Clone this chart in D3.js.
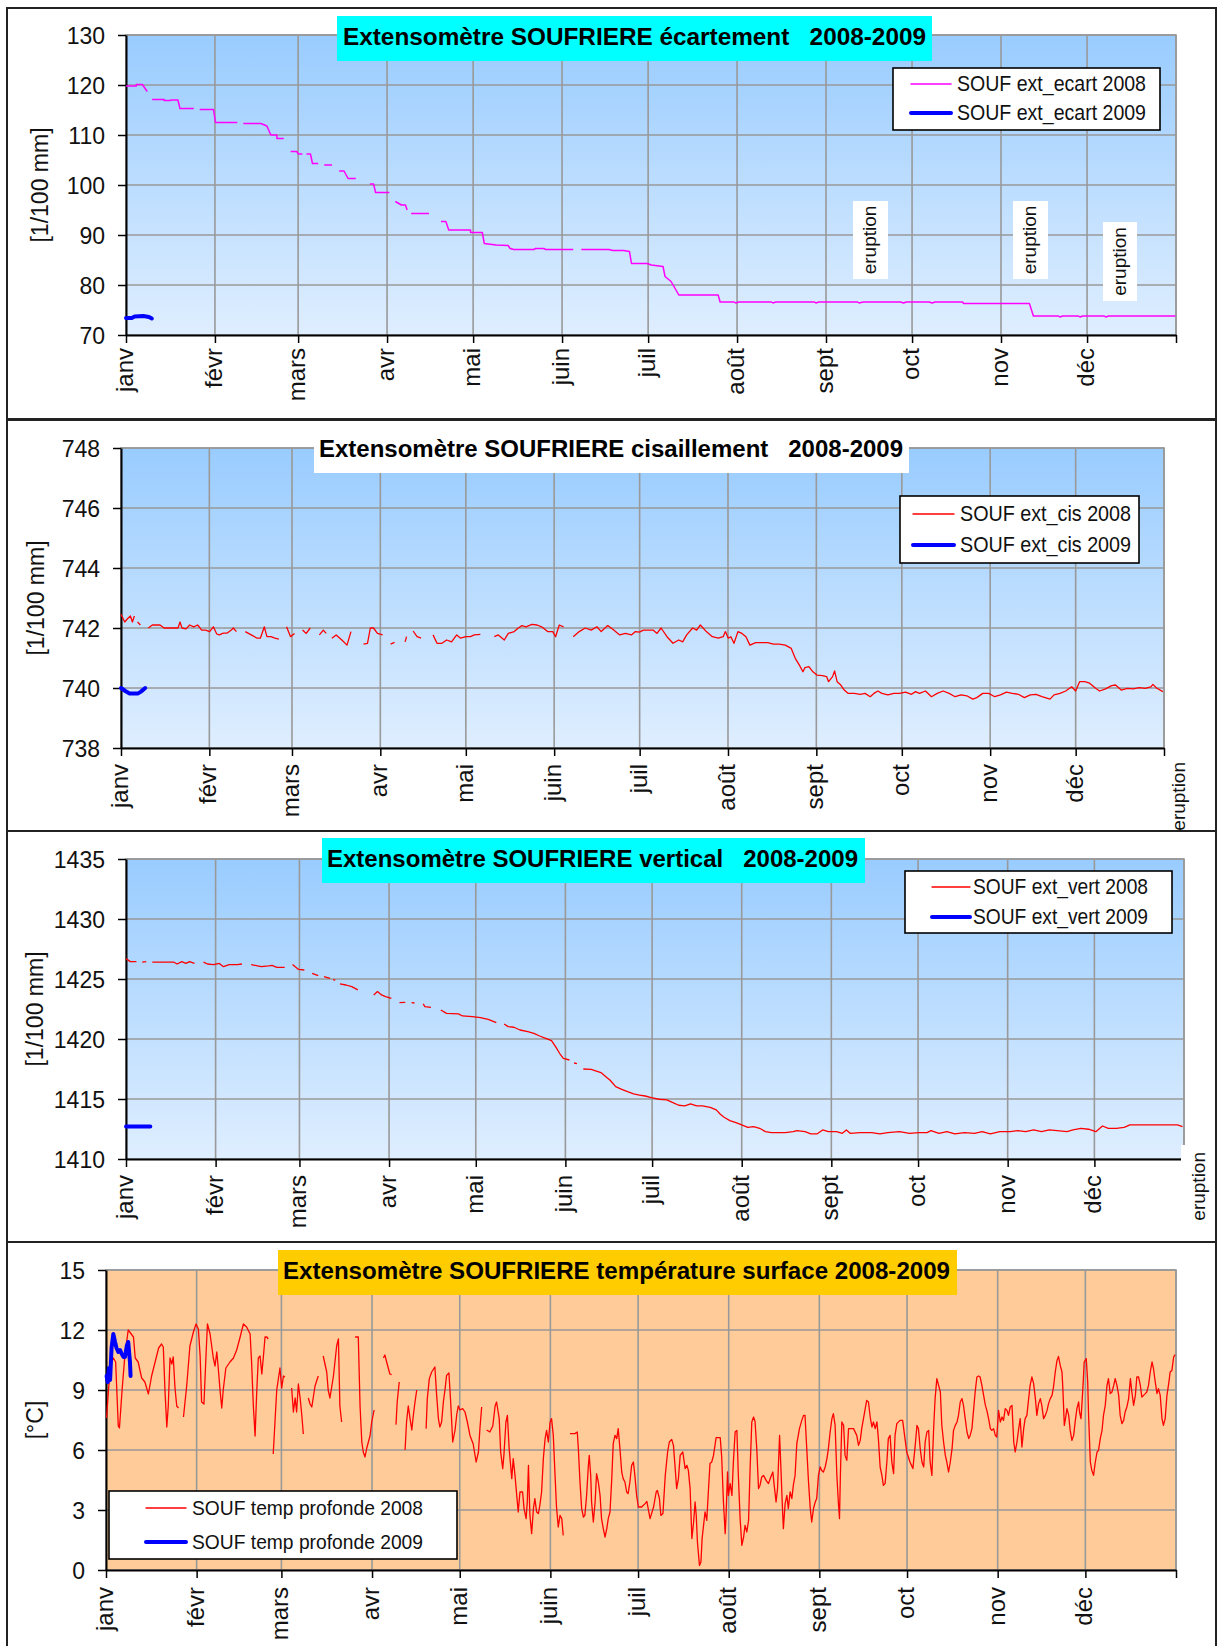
<!DOCTYPE html>
<html>
<head>
<meta charset="utf-8">
<script src="https://cdn.jsdelivr.net/npm/d3@7/dist/d3.min.js"></script>
<style>
body { margin: 0; background: #fff; }
text { font-family: "Liberation Sans", Arial, sans-serif; }
</style>
</head>
<body>
<svg id="chart"></svg>
<script>
// month names on the x axis (2008 is a leap year, ticks come from the calendar)
var monthLabels = ["janv", "févr", "mars", "avr", "mai", "juin", "juil", "août", "sept", "oct", "nov", "déc"];

var ecartTicks = [70, 80, 90, 100, 110, 120, 130];
var cisTicks = [738, 740, 742, 744, 746, 748];
var vertTicks = [1410, 1415, 1420, 1425, 1430, 1435];
var tempTicks = [0, 3, 6, 9, 12, 15];

// [day of year, value], null = gap in the record
var ecart2008 = [[0,119.8],[3.6,119.8],[3.6,120.1],[5.7,120.1],[7.4,118.7],null,
  [9.1,117.1],[13.3,117.1],[13.3,116.9],[15.3,116.9],[16,117.0],[18.1,117.0],[18.8,115.3],[23.6,115.3],null,
  [25.7,115.1],[30.5,115.1],[31.2,112.5],[38.8,112.5],null,
  [40.9,112.3],[47,112.3],[49.1,111.8],[50.5,110.0],[52.6,110.0],[52.6,109.3],[55,109.3],null,
  [57.4,106.7],[59.5,106.7],[60.1,106.2],[61.5,106.2],null,
  [62.9,106.2],[64.3,106.2],[65,104.3],[67,104.3],null,
  [69.1,104.0],[71.8,104.0],null,
  [74.3,102.8],[76,102.8],[77.4,101.3],[80.1,101.3],null,
  [85,100.2],[86.3,100.2],[87,98.5],[91.8,98.5],null,
  [93.9,96.7],[96,96.0],[97.4,96.0],[98,95.0],null,
  [99.4,94.3],[105.6,94.3],null,
  [109.8,92.7],[111.5,92.7],[112.5,91.0],[120.1,91.0],[120.1,90.5],[124.2,90.5],[124.9,88.3],[129,88.0],
  [133.2,87.9],[133.9,87.3],[135.2,87.1],[142.1,87.1],[142.8,87.3],[145.6,87.3],[146.3,87.1],[155.9,87.1],null,
  [158.7,87.1],[168.3,87.1],[169.7,86.9],[173.4,86.9],[175.5,86.7],[176.2,84.3],[181.7,84.3],[183.1,84.0],
  [187.2,83.7],[187.9,81.7],[190,80.7],[192.7,78.0],[206.4,78.0],[207.1,76.6],[212,76.6],[212.5,76.4],[213.5,76.6],
  [225,76.6],[225.5,76.4],[226.5,76.6],[240,76.6],[240.5,76.4],[241.5,76.6],[255,76.6],[255.5,76.4],[257,76.6],
  [270,76.6],[271,76.4],[272,76.6],[280,76.6],[281,76.4],[282,76.6],[291.6,76.6],[292,76.3],[314.9,76.3],
  [316.3,73.8],[325,73.8],[325.5,73.6],[326.5,73.8],[332,73.8],[332.5,73.6],[333.5,73.8],[341,73.8],[341.5,73.6],
  [342.5,73.8],[365.8,73.8]];
var ecart2009 = [[0,73.4],[2,73.4],[3,73.7],[6,73.8],[8,73.6],[9,73.3]];

var cis2008 = [[0,742.46],[1.3,742.2],[2.2,742.3],[3.3,742.4],[4,742.2],[4.7,742.4],null,
  [5.8,742.2],[6.8,742.1],null,
  [9.6,742.0],[11,742.1],[12.4,742.1],[13.7,742.1],[15.1,742.0],[16.5,742.0],[18.6,742.0],[20,742.0],[20.7,742.2],
  [21.4,742.0],[22.8,741.97],[24.1,742.1],[25.5,742.04],[26.9,742.1],[28.3,741.93],[29.7,741.93],[31.1,741.88],
  [32.4,742.04],[33.6,741.8],[34.5,741.77],[35.9,741.83],[37.3,741.83],[38.7,741.93],[39.4,742.0],[40.5,741.88],null,
  [43.6,741.88],[45.7,741.77],[47.8,741.66],[48.9,741.66],[50.3,742.04],[51.2,741.71],[52.6,741.71],[54,741.66],[55.4,741.63],null,
  [58.1,742.04],[59.5,741.71],[60.9,741.82],null,
  [63.7,741.93],[65,741.82],[66.4,742.0],null,
  [69.6,741.77],[71,741.93],[72,741.82],null,
  [74,741.66],[75.5,741.77],[77.5,741.6],[79.3,741.43],[80.7,741.88],null,
  [85.1,741.46],[86.5,741.49],[87.5,742.0],[88.6,742.0],[90,741.82],[91.8,741.77],null,
  [94.6,741.46],[96,741.52],null,
  [99.7,741.54],[100.2,741.71],null,
  [102.5,741.9],[103.9,741.71],[105.3,741.66],null,
  [109.5,741.77],[110.9,741.49],[112.6,741.49],[114.3,741.6],[116,741.54],[117.8,741.77],[119.2,741.66],[121,741.71],
  [122.6,741.71],[124,741.77],[126.1,741.79],null,
  [131,741.71],[132.4,741.77],[134.5,741.6],[135.9,741.82],[138,741.88],[139.4,742.0],[140.7,742.08],[142.1,742.04],
  [144.2,742.12],[146,742.1],[147.6,742.04],[149.7,741.88],[151.5,741.88],[152.5,741.71],[153.8,742.1],[155.3,742.04],null,
  [158.7,741.71],[160.8,741.88],[162.9,742.0],[165,741.93],[167,742.04],[168.5,741.88],[170.8,742.08],[172.9,741.93],
  [175,741.77],[177,741.82],[179.1,741.77],[180.5,741.88],[181.9,741.86],[183.3,741.93],[185.3,741.93],[186.7,741.93],
  [188.1,741.82],[189.5,742.0],[191.6,741.71],[193.7,741.49],[195.7,741.6],[197.1,741.54],[198.5,741.77],[200.6,742.0],
  [202,741.93],[203.3,742.1],[205.4,741.88],[207.5,741.71],[209.6,741.66],[211.3,741.71],[212.1,741.88],[213.1,741.66],
  [214,741.71],[215.1,741.49],[216.5,741.88],[217.9,741.82],[219.3,741.71],[220.7,741.43],[222.7,741.51],[224.8,741.51],
  [226.9,741.51],[229,741.46],[231,741.46],[233.1,741.43],[235.2,741.32],[236.6,740.99],[238,740.77],[239.3,740.54],
  [240,740.68],[241.4,740.71],[242.8,740.54],[244.2,740.43],[246.2,740.41],[247.6,740.38],[248.3,740.21],[249.7,740.38],
  [250.4,740.57],[251.3,740.21],[252.4,740.12],[253.8,739.93],[255.2,739.82],[257.3,739.82],[259.4,739.79],[261.1,739.82],
  [262.9,739.71],[264.2,739.82],[265.6,739.9],[267,739.82],[269.1,739.77],[271.2,739.82],[273.2,739.82],[275.3,739.86],
  [277.4,739.79],[278.8,739.88],[280.2,739.82],[282.3,739.9],[284.4,739.71],[286.4,739.82],[288.5,739.9],[290.6,739.82],
  [292.7,739.71],[294.8,739.77],[296.8,739.74],[298.9,739.63],[300.3,739.68],[302.4,739.82],[304.5,739.82],[306.6,739.71],
  [308.6,739.77],[310.7,739.86],[312.8,739.82],[314.9,739.79],[317,739.68],[319.1,739.77],[321.1,739.79],[323.2,739.71],
  [326,739.63],[327.4,739.77],[329.5,739.82],[331.5,739.9],[333.6,740.04],[335,739.9],[336.4,740.21],[338.2,740.21],
  [339.9,740.16],[342,739.99],[343.4,739.9],[345.5,739.97],[347.6,740.08],[349,740.1],[351,739.93],[353.1,739.99],
  [355.2,739.97],[357.3,740.01],[359.4,739.99],[361.4,740.04],[362.1,740.12],[363.5,739.99],[365.6,739.88]];
var cis2009 = [[0,740.0],[1.5,739.9],[3,739.82],[6,739.82],[7,739.88],[8.5,740.0]];

var vert2008 = [[0,1426.7],[1.5,1426.45],[3.6,1426.45],null,[5.6,1426.4],[7,1426.45],null,
  [9.1,1426.4],[16.6,1426.4],[17.7,1426.25],[19.3,1426.45],[20.7,1426.3],[22,1426.45],[23.7,1426.3],null,
  [26.8,1426.4],[28.2,1426.25],[30.3,1426.2],[32.3,1426.3],[33.7,1426.03],[35.7,1426.2],[38.5,1426.2],[40.1,1426.25],null,
  [43.3,1426.2],[46.8,1426.03],[49.4,1426.1],[50.5,1426.14],[52.2,1425.97],[54.9,1425.97],null,
  [57.6,1426.2],[59.7,1425.8],[61.7,1425.75],null,
  [64.4,1425.47],[66.5,1425.28],null,
  [68.5,1425.2],[70.6,1425.06],null,
  [71.6,1424.95],[72.4,1424.9],null,
  [74,1424.59],[76.1,1424.5],[78.1,1424.36],[80.2,1424.09],null,
  [85.7,1423.67],[87,1423.95],[88.4,1423.67],[89.8,1423.53],[91.8,1423.39],null,
  [94.6,1423.03],[96.6,1423.06],null,
  [98.8,1423.03],[99.8,1423.0],null,
  [102.8,1422.92],[103.4,1422.7],[105.5,1422.64],null,
  [108.9,1422.42],[110.9,1422.14],[115,1422.09],[116.4,1421.92],[119.8,1421.86],[122.6,1421.78],[125.3,1421.64],[128.1,1421.36],null,
  [130.8,1421.25],[132.2,1421.03],[134.2,1420.98],[136.3,1420.75],[139,1420.62],[141.1,1420.47],[143.1,1420.25],
  [145.2,1420.06],[147.2,1419.86],[148.6,1419.36],[150,1418.81],[151.3,1418.39],[153.4,1418.25],null,
  [155,1418.0],[156,1417.95],null,
  [158.2,1417.5],[160.9,1417.47],[164.3,1417.2],[166,1416.86],[167.4,1416.58],[169.4,1416.03],[171.5,1415.81],
  [173.5,1415.61],[175.6,1415.42],[177.6,1415.33],[179.6,1415.25],[181.7,1415.11],[184.4,1414.98],[187.1,1414.92],
  [189.2,1414.7],[191.2,1414.48],[193.3,1414.42],[195.3,1414.59],[197.4,1414.42],[199.4,1414.42],[202.1,1414.31],
  [204.2,1414.09],[205.5,1413.75],[206.9,1413.48],[208.9,1413.2],[211,1413.03],[213,1412.84],[215.1,1412.64],
  [217.1,1412.7],[219.2,1412.56],[221.2,1412.28],[223.3,1412.2],[226,1412.2],[228,1412.2],[230.8,1412.28],
  [232.1,1412.36],[234.9,1412.28],[236.9,1412.09],[239,1412.09],[241,1412.42],[243,1412.28],[245.8,1412.28],
  [247.8,1412.14],[249.2,1412.42],[250.5,1412.14],[254,1412.2],[258,1412.2],[260.8,1412.09],[263.5,1412.2],
  [267.6,1412.28],[271,1412.14],[274.4,1412.2],[277.1,1412.2],[278.5,1412.36],[281.2,1412.14],[284,1412.28],
  [286.7,1412.09],[290.1,1412.2],[293.5,1412.14],[296.2,1412.28],[299,1412.09],[302.3,1412.28],[305.8,1412.28],
  [308.5,1412.36],[311.2,1412.28],[314,1412.42],[316.7,1412.28],[319.4,1412.42],[322.1,1412.36],[325.5,1412.28],
  [327.6,1412.42],[330.3,1412.56],[333,1412.48],[335.5,1412.28],[337.8,1412.75],[339.8,1412.56],[342.6,1412.56],
  [345.3,1412.64],[347.3,1412.84],[352.1,1412.84],[357.6,1412.84],[363.7,1412.84],[365.5,1412.7]];
var vert2009 = [[0,1412.7],[8.4,1412.7]];

var temp2008 = [[0.2,7.6],[0.8,8.9],[1.5,10.2],[2.5,10.6],[3.3,10.4],[4.2,7.2],[4.6,7.1],[5.5,9.0],[6.5,10.8],[7.6,12.0],
  [9.4,11.65],[10,10.6],[11,10.4],[12.2,9.6],[13.3,9.4],[14.5,8.8],[15.6,9.7],[16.8,10.4],[18,11.1],[19,11.3],[19.6,11.15],
  [20.2,8.9],[20.8,7.15],[21.3,8.2],[21.9,10.6],[22.5,10.3],[23,10.65],[23.6,9.1],[24.2,8.2],[24.8,8.1],null,
  [26.5,7.65],[27.6,9.2],[28.7,11.2],[29.9,11.9],[30.8,12.3],[31.6,12.05],[32.2,10.7],[32.7,8.4],[33.5,8.3],[34.2,10.7],
  [34.7,12.3],[35.6,11.8],[36.7,10.6],[37.3,10.2],[37.9,10.9],[38.4,10.1],[39,9.0],[39.6,8.1],[40.1,9.0],[41,10.1],
  [42.4,10.4],[43.6,10.6],[44.7,11.0],[45.8,11.6],[47,12.3],[48.1,12.15],[49.3,11.8],[49.8,10.4],[50.4,8.2],[51,6.7],
  [51.5,8.7],[52.1,10.6],[52.7,10.7],[53.3,9.8],[53.8,10.6],[54.4,11.65],[55,11.65],[55.5,11.55],null,
  [57.2,5.8],[57.8,7.4],[58.4,9.0],[59.5,10.1],[60.1,9.1],[60.7,9.7],[61.2,9.65],null,
  [63.5,9.1],[64.1,7.9],[64.7,8.6],[65.2,7.9],[65.8,9.3],[66.4,8.6],[67,7.7],[67.5,6.8],null,
  [69.2,8.6],[69.8,8.3],[70.4,8.15],[71.5,9.2],[72.6,9.7],null,
  [74.3,10.7],[75.5,9.9],[76,9.0],[76.6,8.6],[77.8,9.7],[78.9,11.2],[79.5,11.55],[80,8.2],[80.6,7.4],null,
  [85.2,11.65],[86.3,11.65],[86.9,8.2],[87.5,6.4],[88,5.9],[88.6,5.65],[89.2,6.1],[90.3,6.7],[90.9,7.4],[91.7,8.0],null,
  [94.9,10.6],[95.4,10.75],[96,10.4],[97.1,9.8],[97.7,9.77],null,
  [99.2,7.27],[99.6,8.4],[100.3,9.4],null,
  [102.3,6.0],[102.8,7.4],[103.4,8.2],[104,7.57],[104.6,7.0],[105.1,7.7],[105.7,8.4],[106.3,9.0],null,
  [109.5,7.07],[109.9,8.57],[110.6,9.57],[111.4,9.9],[112.5,10.15],[113.1,8.73],[113.7,7.57],[114.2,7.15],[114.8,7.4],
  [115.4,8.4],[116,9.07],[116.5,9.73],[117.3,9.85],[117.9,8.4],[118.6,6.4],[119.4,7.0],[120,7.8],[120.5,8.2],[121.1,8.0],
  [122,8.07],[122.8,7.9],[123.6,7.4],[124.5,6.73],[125.6,6.3],[126.6,5.4],[127.4,5.9],[127.9,7.07],[128.5,8.15],null,
  [130.2,7.0],[131.3,6.9],[132.3,7.2],[133.1,8.2],[133.6,8.4],[134.5,7.57],[135,5.9],[135.7,5.07],[136.1,5.73],[136.8,7.4],
  [137.3,7.73],[137.9,6.07],[138.8,4.57],[139.3,5.57],[139.9,4.73],[140.5,3.73],[141,2.9],[141.6,3.9],[142.5,3.9],[143,3.07],
  [143.7,2.57],[144.1,3.4],[144.5,5.23],[145,2.73],[145.6,1.82],[146.2,3.07],[146.7,3.57],[147.3,2.9],[147.9,2.82],
  [148.4,3.23],[149,3.9],[149.6,5.57],[150.2,6.57],[150.7,6.98],[151.3,6.4],[151.9,7.4],[152.4,7.57],[153,6.73],[153.6,4.73],
  [154.1,3.15],[154.7,2.15],[155.3,2.73],[155.9,2.57],[156.4,1.73],null,
  [158.7,6.82],[160.4,6.82],[161.2,6.9],[161.6,6.0],[162.1,4.48],[162.7,3.07],[163.3,2.65],[163.8,2.73],[164.4,3.73],
  [165,5.23],[165.3,5.73],[165.8,4.73],[166.1,3.4],[166.7,2.4],[167.3,3.4],[167.8,4.82],[168.4,4.4],[169,3.73],[169.5,2.57],
  [170.1,2.07],[170.7,1.65],[171.3,2.07],[171.8,2.57],[172.4,2.9],[173,4.57],[173.5,6.32],[174.1,6.73],[174.7,6.57],
  [175.2,7.07],[175.8,6.07],[176.4,4.9],[176.9,4.57],[177.5,4.4],[178.1,3.9],[178.6,3.82],[179.2,4.4],[179.8,5.23],
  [180.4,5.4],[180.9,4.73],[181.5,3.73],[182.1,3.15],[183.2,3.15],[184.4,3.32],[185,3.43],[186.1,2.57],[187.3,3.15],
  [188.2,3.9],[188.6,3.98],[189.3,3.57],[189.8,2.73],[190.5,2.82],[191.3,4.73],[192.1,5.9],[192.7,6.4],[193.5,6.53],
  [194.1,6.23],[194.7,5.07],[195.2,4.07],[195.8,4.57],[196.4,5.73],[197.3,5.9],[198.1,5.07],[198.7,5.23],[199.2,4.98],
  [199.8,4.07],[200.4,1.57],[201,2.4],[201.5,3.4],[201.9,2.73],[202.3,1.4],[203,0.23],[203.5,0.4],[203.9,1.57],[204.4,2.23],
  [204.9,2.9],[205.5,2.48],[206.1,4.07],[206.6,5.32],[207.2,5.4],[207.8,5.73],[208.7,6.62],[210.1,6.62],[210.6,5.65],
  [211.2,3.4],[211.8,1.82],[212.1,2.73],[212.6,4.9],[212.9,3.73],[213.5,4.32],[214.1,3.73],[214.6,5.4],[215.2,6.9],
  [215.8,6.98],[216,6.07],[216.3,4.73],[216.9,2.57],[217.5,1.23],[218.1,1.65],[218.6,2.23],[219.2,1.9],[219.8,2.48],
  [220.3,4.98],[220.9,7.4],[221.5,7.65],[222,7.43],[222.6,6.07],[223.2,4.07],[223.7,4.23],[224.3,4.65],[224.9,4.73],
  [225.8,4.48],[226.6,4.32],[227.4,4.65],[228.1,4.9],[228.5,4.32],[229.2,3.4],[229.7,4.07],[230.4,6.73],[230.8,5.32],
  [231.3,3.4],[231.7,2.07],[232.3,3.32],[232.9,3.73],[233.4,3.07],[234,3.9],[234.6,3.57],[235.1,4.23],[235.7,4.73],
  [236.3,6.32],[237.2,7.07],[238,7.48],[238.6,7.73],[239.1,7.73],[239.7,6.07],[240.3,4.4],[240.9,3.07],[241.4,2.4],
  [242,3.07],[242.6,3.4],[243.1,3.57],[243.7,4.73],[244.3,5.15],[244.8,4.98],[245.4,4.9],[246,5.15],[246.6,5.57],
  [247.1,6.07],[247.7,6.9],[248.3,7.57],[248.8,7.82],[249.4,7.23],[250,4.73],[250.5,3.4],[250.9,2.57],[251.2,4.73],
  [251.7,7.4],[252.3,7.23],[252.8,5.73],[253.4,5.48],[254,7.07],[255.7,7.07],[256.8,6.73],[257.4,6.23],[258,6.48],
  [258.5,7.07],[259.1,7.57],[259.7,8.07],[260.2,8.48],[260.8,8.4],[261.4,7.65],[262,7.15],[262.5,7.4],[263.1,7.07],
  [263.7,7.4],[264.2,6.57],[264.8,5.15],[265.4,4.73],[265.9,4.23],[266.5,4.32],[267.1,5.4],[267.6,6.57],[268.2,6.73],
  [268.8,5.4],[269.4,4.82],[269.9,6.73],[270.5,7.32],[271.6,7.48],[272.5,7.48],[273.3,6.57],[273.9,5.9],[275,5.4],
  [276,5.07],[276.8,6.23],[277.4,7.23],[277.9,7.07],[278.5,6.07],[279.1,5.4],[279.7,5.15],[280.2,6.4],[280.8,6.9],
  [281.4,6.98],[281.9,5.4],[282.5,4.73],[283.1,7.07],[283.6,8.57],[284.2,9.57],[284.8,9.23],[285.4,8.9],[285.9,7.23],
  [286.5,6.4],[287.1,5.73],[287.6,5.4],[288.2,4.9],[288.8,5.4],[289.4,6.07],[289.9,6.98],[290.5,7.23],[291.1,7.4],
  [291.6,7.73],[292.2,8.4],[292.8,8.57],[293.3,8.23],[293.9,7.57],[294.5,6.9],[295.1,6.57],[295.6,6.73],[296.2,7.07],
  [296.8,8.07],[297.3,8.9],[297.9,9.65],[298.5,9.7],[299,9.65],[299.6,9.23],[300.2,8.73],[300.8,8.23],[301.3,7.98],
  [301.9,7.57],[302.5,7.07],[303,6.98],[303.6,7.07],[304.2,6.73],[304.7,6.65],[305.3,7.98],[305.9,7.4],[306.5,7.65],
  [307,7.48],[307.6,8.07],[308.2,7.98],[308.7,7.73],[309.3,8.15],[309.9,8.23],[310.5,6.4],[311,5.9],[311.6,6.4],
  [312.2,7.07],[312.7,7.57],[313.3,6.15],[313.9,7.07],[314.4,7.57],[315,7.73],[315.6,8.57],[316.1,9.23],[316.7,9.65],
  [317.3,9.32],[317.9,8.57],[318.4,7.73],[319,8.32],[319.6,8.57],[320.1,8.23],[320.7,7.57],[321.3,7.73],[321.9,7.98],
  [322.4,8.32],[323,8.57],[323.6,8.73],[324.1,9.15],[324.7,9.9],[325.3,10.48],[325.8,10.68],[326.4,10.23],[327,9.9],
  [327.3,9.07],[327.8,7.23],[328.2,7.57],[328.7,8.07],[329.3,7.73],[329.8,6.98],[330.4,6.48],[331,6.73],[331.5,7.4],
  [332.1,8.07],[332.7,8.4],[333,7.9],[333.5,7.57],[333.8,8.23],[334.2,9.23],[334.6,10.4],[335.3,10.57],[335.8,9.4],
  [336.1,7.73],[336.7,5.4],[337.2,4.98],[337.8,4.73],[338.4,5.4],[339,5.9],[339.5,5.98],[340.1,6.57],[340.7,6.98],
  [341.2,7.73],[341.8,8.23],[342.4,9.23],[342.9,9.57],[343.5,8.82],[344.1,8.9],[344.7,9.23],[345.2,9.57],[345.8,9.23],
  [346.4,8.73],[346.9,7.73],[347.5,7.32],[348.1,7.48],[348.6,7.9],[349.2,8.15],[349.8,8.57],[350.4,9.57],[350.9,8.9],
  [351.5,8.23],[352.1,8.73],[352.6,9.65],[353.2,9.65],[353.8,9.23],[354.3,8.65],[354.9,8.73],[355.5,8.82],[356,8.9],
  [356.6,9.23],[357.2,9.9],[357.8,10.4],[358.3,10.07],[358.9,9.4],[359.5,8.82],[360,9.07],[360.6,8.73],[361.2,7.57],
  [361.7,7.23],[362.3,7.57],[362.9,8.73],[363.5,9.32],[364,9.9],[364.6,9.98],[365.2,10.65],[365.7,10.77]];
var temp2009 = [[0.2,9.7],[0.6,9.4],[1,10.1],[1.4,9.5],[1.9,11.1],[2.5,11.8],[3.1,11.4],[3.6,11.1],[4.2,10.9],[4.8,11.0],
  [5.4,10.8],[6,10.65],[6.5,10.65],[7.1,11.2],[7.6,11.4],[8.2,10.4],[8.4,9.7]];

var svg = d3.select("#chart").attr("width", 1218).attr("height", 1646);

var grad = svg.append("defs").append("linearGradient")
    .attr("id", "blueGrad").attr("x1", 0).attr("y1", 0).attr("x2", 0).attr("y2", 1);
grad.append("stop").attr("offset", "0%").attr("stop-color", "#99ccff");
grad.append("stop").attr("offset", "100%").attr("stop-color", "#dfeeff");

var t0 = Date.UTC(2008, 0, 1), t1 = Date.UTC(2009, 0, 1);
function dayDate(d) { return new Date(t0 + d * 864e5); }

var panels = [
  { frame: [8, 419], left: 126, right: 1176, top: 35, bottom: 335, domain: [70, 130], ticks: ecartTicks,
    bg: "url(#blueGrad)", labelGap: 13, ylabel: "[1/100 mm]", ylabelX: 40,
    series: [{ data: ecart2008, color: "#ff00ff", w: 1.5 }, { data: ecart2009, color: "#0000ff", w: 4 }],
    title: { text: "Extensomètre SOUFRIERE écartement   2008-2009", box: [337, 16, 932, 61], fill: "#00ffff", x: 343, y: 45, len: 583 },
    legend: { box: [893, 68, 1160, 130], line: [911, 951], rows: [84, 113], tx: 957, len: 189, size: 22,
      names: ["SOUF ext_ecart 2008", "SOUF ext_ecart 2009"] } },
  { frame: [420, 831], left: 121, right: 1164, top: 448, bottom: 748, domain: [738, 748], ticks: cisTicks,
    bg: "url(#blueGrad)", labelGap: 16, ylabel: "[1/100 mm]", ylabelX: 36,
    series: [{ data: cis2008, color: "#ff0000", w: 1.3 }, { data: cis2009, color: "#0000ff", w: 4 }],
    title: { text: "Extensomètre SOUFRIERE cisaillement   2008-2009", box: [314, 438, 909, 473], fill: "#ffffff", x: 319, y: 457, len: 584 },
    legend: { box: [900, 496, 1139, 563], line: [913, 954], rows: [514, 545], tx: 960, len: 171, size: 22,
      names: ["SOUF ext_cis 2008", "SOUF ext_cis 2009"] } },
  { frame: [831, 1242], left: 126, right: 1184, top: 859, bottom: 1159, domain: [1410, 1435], ticks: vertTicks,
    bg: "url(#blueGrad)", labelGap: 16, ylabel: "[1/100 mm]", ylabelX: 35,
    series: [{ data: vert2008, color: "#ff0000", w: 1.3 }, { data: vert2009, color: "#0000ff", w: 4 }],
    title: { text: "Extensomètre SOUFRIERE vertical   2008-2009", box: [322, 838, 865, 883], fill: "#00ffff", x: 327, y: 867, len: 531 },
    legend: { box: [905, 871, 1172, 933], line: [932, 970], rows: [887, 917], tx: 973, len: 175, size: 22,
      names: ["SOUF ext_vert 2008", "SOUF ext_vert 2009"] } },
  { frame: [1242, 1660], left: 106, right: 1176, top: 1270, bottom: 1570, domain: [0, 15], ticks: tempTicks,
    bg: "#ffcc99", labelGap: 17, ylabel: "[°C]", ylabelX: 35,
    series: [{ data: temp2008, color: "#ff0000", w: 1.3 }, { data: temp2009, color: "#0000ff", w: 4 }],
    title: { text: "Extensomètre SOUFRIERE température surface 2008-2009", box: [278, 1250, 957, 1295], fill: "#ffcc00", x: 283, y: 1279, len: 667 },
    legend: { box: [109, 1491, 457, 1559], line: [146, 186], rows: [1508, 1542], tx: 192, len: 231, size: 21,
      names: ["SOUF temp profonde 2008", "SOUF temp profonde 2009"] } }
];

panels.forEach(function (p) {
  var x = d3.scaleUtc().domain([new Date(t0), new Date(t1)]).range([p.left, p.right]);
  var y = d3.scaleLinear().domain(p.domain).range([p.bottom, p.top]);
  var g = svg.append("g");

  g.append("rect")
    .attr("x", 7).attr("y", p.frame[0]).attr("width", 1209).attr("height", p.frame[1] - p.frame[0])
    .attr("fill", "#fff").attr("stroke", "#222").attr("stroke-width", 2);

  g.append("rect")
    .attr("x", p.left).attr("y", p.top).attr("width", p.right - p.left).attr("height", p.bottom - p.top)
    .attr("fill", p.bg).attr("stroke", "#999").attr("stroke-width", 1.6);

  var months = d3.utcMonth.range(new Date(t0), new Date(t1 + 1));

  // grid
  g.selectAll(".vgrid").data(months.slice(1)).enter().append("line")
    .attr("x1", d => x(d)).attr("x2", d => x(d)).attr("y1", p.top).attr("y2", p.bottom)
    .attr("stroke", "#999").attr("stroke-width", 1.6);
  g.selectAll(".hgrid").data(p.ticks.slice(1)).enter().append("line")
    .attr("x1", p.left).attr("x2", p.right).attr("y1", d => y(d)).attr("y2", d => y(d))
    .attr("stroke", "#999").attr("stroke-width", 1.6);

  // axes
  var yAxis = d3.axisLeft(y).tickValues(p.ticks).tickSize(8).tickSizeOuter(0).tickFormat(d3.format("d"));
  var ya = g.append("g").attr("transform", "translate(" + p.left + ",0)").call(yAxis);
  ya.select(".domain").attr("stroke", "#000").attr("stroke-width", 2);
  ya.selectAll("line").attr("stroke", "#000").attr("stroke-width", 1.5);
  ya.selectAll("text")
    .attr("x", -21).attr("dy", "0.35em")
    .style("font-size", "23px").style("font-family", "'Liberation Sans', Arial, sans-serif").attr("fill", "#111");

  var xAxis = d3.axisBottom(x).tickValues(months).tickSize(8).tickSizeOuter(0)
    .tickFormat((d, i) => monthLabels[i] || "");
  var xa = g.append("g").attr("transform", "translate(0," + p.bottom + ")").call(xAxis);
  xa.select(".domain").attr("stroke", "#000").attr("stroke-width", 2);
  xa.selectAll("line").attr("stroke", "#000").attr("stroke-width", 1.5);
  xa.selectAll("text")
    .attr("transform", "rotate(-90)").attr("text-anchor", "end")
    .attr("x", -p.labelGap).attr("y", 0).attr("dy", "0.27em")
    .style("font-size", "24px").style("font-family", "'Liberation Sans', Arial, sans-serif").attr("fill", "#111");

  g.append("text")
    .attr("transform", "translate(" + p.ylabelX + "," + (p.top + p.bottom) / 2 + ") rotate(-90)")
    .attr("text-anchor", "middle").attr("dy", "0.35em")
    .attr("font-size", "23px").attr("fill", "#111")
    .text(p.ylabel);

  // series
  var line = d3.line()
    .defined(d => d !== null)
    .x(d => x(dayDate(d[0])))
    .y(d => y(d[1]));
  p.series.forEach(function (s) {
    g.append("path").datum(s.data)
      .attr("d", line)
      .attr("fill", "none").attr("stroke", s.color).attr("stroke-width", s.w)
      .attr("stroke-linejoin", "round").attr("stroke-linecap", s.w > 2 ? "round" : "butt");
  });

  // title
  var tb = p.title.box;
  g.append("rect").attr("x", tb[0]).attr("y", tb[1]).attr("width", tb[2] - tb[0]).attr("height", tb[3] - tb[1])
    .attr("fill", p.title.fill);
  g.append("text")
    .attr("x", p.title.x).attr("y", p.title.y)
    .attr("font-size", "23px").attr("font-weight", "bold").attr("fill", "#000")
    .attr("textLength", p.title.len).attr("lengthAdjust", "spacingAndGlyphs")
    .style("white-space", "pre")
    .text(p.title.text);

  // legend
  var L = p.legend, lb = L.box;
  g.append("rect").attr("x", lb[0]).attr("y", lb[1]).attr("width", lb[2] - lb[0]).attr("height", lb[3] - lb[1])
    .attr("fill", "#fff").attr("stroke", "#000").attr("stroke-width", 1.6);
  L.rows.forEach(function (ry, i) {
    g.append("line").attr("x1", L.line[0]).attr("x2", L.line[1]).attr("y1", ry).attr("y2", ry)
      .attr("stroke", p.series[i].color).attr("stroke-width", p.series[i].w).attr("stroke-linecap", "round");
    g.append("text").attr("x", L.tx).attr("y", ry + 6.5)
      .attr("font-size", L.size + "px").attr("fill", "#111")
      .attr("textLength", L.len).attr("lengthAdjust", "spacingAndGlyphs")
      .text(L.names[i]);
  });
});

// "eruption" notes
var eruptionBoxes = [[853, 201, 888, 279], [1013, 201, 1048, 279], [1103, 222, 1137, 301]];
eruptionBoxes.forEach(function (b) {
  svg.append("rect").attr("x", b[0]).attr("y", b[1]).attr("width", b[2] - b[0]).attr("height", b[3] - b[1]).attr("fill", "#fff");
  svg.append("text")
    .attr("transform", "translate(" + (b[0] + b[2]) / 2 + "," + (b[1] + b[3]) / 2 + ") rotate(-90)")
    .attr("text-anchor", "middle").attr("dy", "0.3em")
    .attr("font-size", "19px").attr("fill", "#111")
    .text("eruption");
});
svg.append("rect").attr("x", 1181).attr("y", 1145).attr("width", 34).attr("height", 90).attr("fill", "#fff");
[[1179, 762], [1199, 1152]].forEach(function (pt) {
  svg.append("text")
    .attr("transform", "translate(" + pt[0] + "," + pt[1] + ") rotate(-90)")
    .attr("text-anchor", "end").attr("dy", "0.3em")
    .attr("font-size", "19px").attr("fill", "#111")
    .text("eruption");
});
</script>
</body>
</html>
